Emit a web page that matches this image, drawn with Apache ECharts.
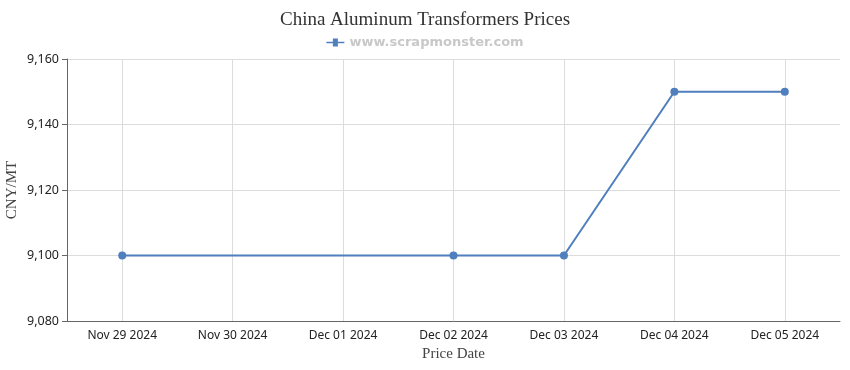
<!DOCTYPE html>
<html><head><meta charset="utf-8">
<script src="https://cdn.jsdelivr.net/npm/echarts@6/dist/echarts.min.js"></script>
<style>html,body{margin:0;padding:0;background:#fff}#c{width:850px;height:370px}</style>
</head><body><div id="c"></div>
<script>
const categories = ['Nov 29 2024','Nov 30 2024','Dec 01 2024','Dec 02 2024','Dec 03 2024','Dec 04 2024','Dec 05 2024'];
const prices = [9100, null, null, 9100, 9100, 9150, 9150];
const seriesName = 'www.scrapmonster.com';
const titleText = 'China Aluminum Transformers Prices';
const yMin = 9080, yMax = 9160, yStep = 20;

const chart = echarts.init(document.getElementById('c'), null, {renderer:'canvas'});
chart.setOption({
  animation: false,
  backgroundColor: '#fff',
  title: {
    text: titleText, left: 'center', top: 6,
    textStyle: {fontFamily: 'Liberation Serif', fontWeight: 'normal', fontSize: 19, color: '#333'}
  },
  legend: {
    top: 31, left: 'center', itemWidth: 18, itemHeight: 8, itemGap: 5,
    data: [{name: seriesName, icon: 'path://M0,3.2 L6.5,3.2 L6.5,0 L11.5,0 L11.5,3.2 L18,3.2 L18,4.8 L11.5,4.8 L11.5,8 L6.5,8 L6.5,4.8 L0,4.8 Z'}],
    textStyle: {color: '#c8c8c8', fontWeight: 'bold', fontSize: 13, fontFamily: 'DejaVu Sans'}
  },
  grid: {left: 67, right: 10, top: 59, bottom: 49, containLabel: false, outerBoundsMode: 'none'},
  xAxis: {
    type: 'category', data: categories, boundaryGap: true,
    name: 'Price Date', nameLocation: 'middle', nameGap: 26, nameMoveOverlap: false,
    nameTextStyle: {fontFamily: 'Liberation Serif', fontSize: 15, color: '#444'},
    axisLine: {lineStyle: {color: '#666'}},
    axisTick: {alignWithLabel: true, length: 5, lineStyle: {color: '#666'}},
    axisLabel: {color: '#222', fontSize: 12, fontFamily: 'Noto Sans', margin: 9},
    splitLine: {show: true, alignWithLabel: true, lineStyle: {color: '#dcdcdc'}}
  },
  yAxis: {
    type: 'value', min: yMin, max: yMax, interval: yStep,
    name: 'CNY/MT', nameLocation: 'middle', nameGap: 47, nameRotate: 90, nameMoveOverlap: false,
    nameTextStyle: {fontFamily: 'Liberation Serif', fontSize: 15, color: '#444'},
    axisLine: {show: true, lineStyle: {color: '#666'}},
    axisTick: {show: true, length: 5, lineStyle: {color: '#666'}},
    axisLabel: {color: '#222', fontSize: 12.5, fontFamily: 'Noto Sans', margin: 8,
      formatter: v => v.toLocaleString('en-US')},
    splitLine: {show: true, lineStyle: {color: '#dcdcdc'}}
  },
  series: [{
    name: seriesName, type: 'line', data: prices, connectNulls: true,
    symbol: 'circle', symbolSize: 8,
    itemStyle: {color: '#4f7fbc'},
    lineStyle: {color: '#4f7fbc', width: 2}
  }]
});
</script></body></html>
